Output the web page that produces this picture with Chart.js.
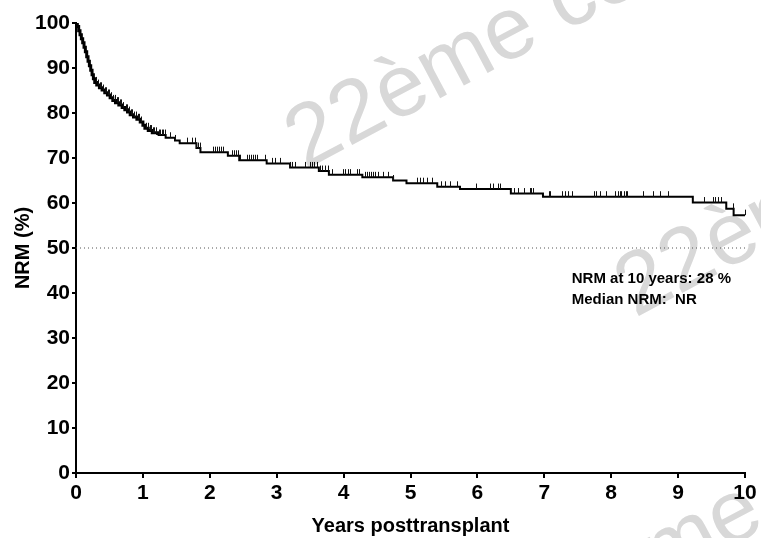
<!DOCTYPE html>
<html><head><meta charset="utf-8">
<script src="https://cdn.jsdelivr.net/npm/chart.js@4.4.1/dist/chart.umd.min.js"></script>
<style>html,body{margin:0;padding:0;background:#fff}canvas{display:block}</style>
</head><body>
<canvas id="c" width="761" height="538"></canvas>
<script>
// Kaplan-Meier step points (time in years, NRM-free %)
const stepTimes = [0,0.02,0.04,0.06,0.08,0.10,0.12,0.14,0.16,0.18,0.20,0.22,0.24,0.26,0.28,0.31,0.35,0.39,0.43,0.47,0.51,0.55,0.59,0.64,0.69,0.73,0.77,0.81,0.86,0.91,0.96,1.00,1.03,1.08,1.14,1.22,1.34,1.48,1.55,1.80,1.86,2.27,2.44,2.85,3.20,3.63,3.78,4.28,4.74,4.94,5.40,5.74,6.50,6.98,9.22,9.72,9.83,10.0];
const stepValues = [100,99.2,98.3,97.4,96.5,95.6,94.6,93.6,92.5,91.5,90.5,89.5,88.5,87.6,86.8,86.2,85.6,85.1,84.5,84.0,83.4,82.8,82.3,81.8,81.2,80.7,80.2,79.6,79.1,78.6,78.0,77.3,76.6,76.1,75.6,75.1,74.5,73.9,73.3,72.2,71.3,70.5,69.5,68.8,67.9,67.1,66.3,65.7,65.0,64.4,63.6,63.1,62.1,61.4,60.1,58.7,57.3,57.3];
// Censored observations (years)
const censorTimes = [0.30,0.33,0.36,0.38,0.40,0.43,0.45,0.48,0.50,0.53,0.55,0.58,0.61,0.63,0.66,0.68,0.71,0.74,0.76,0.79,0.82,0.84,0.87,0.89,0.92,0.94,0.97,1.05,1.07,1.10,1.12,1.15,1.17,1.20,1.24,1.26,1.28,1.30,1.33,1.41,1.48,1.66,1.73,1.78,1.80,1.83,1.85,2.05,2.08,2.11,2.14,2.17,2.20,2.33,2.36,2.39,2.42,2.45,2.55,2.58,2.61,2.64,2.67,2.70,2.83,2.93,2.97,3.05,3.20,3.23,3.27,3.42,3.50,3.53,3.56,3.60,3.65,3.68,3.72,3.77,3.82,3.99,4.02,4.06,4.10,4.20,4.23,4.32,4.35,4.38,4.41,4.44,4.47,4.52,4.59,4.67,4.74,5.09,5.14,5.19,5.24,5.32,5.45,5.52,5.59,5.69,5.98,6.19,6.23,6.31,6.34,6.54,6.61,6.70,6.78,6.80,6.83,7.07,7.08,7.27,7.31,7.35,7.42,7.75,7.78,7.83,7.92,8.06,8.10,8.13,8.15,8.19,8.22,8.24,8.47,8.62,8.73,8.85,9.39,9.52,9.55,9.60,9.64,9.82,10.0];
const xTicks = [0,1,2,3,4,5,6,7,8,9,10];
const yTicks = [0,10,20,30,40,50,60,70,80,90,100];
const refLevel = [50,50];
const refTimes = [0,10];
const noteLines = ['NRM at 10 years: 28 %', 'Median NRM:  NR'];
const noteAnchor = [7.41, 42.3];
const watermarkText = '22ème congrès';

const FONT = "'Liberation Sans', Arial, sans-serif";
Chart.defaults.font.family = FONT;
Chart.defaults.color = '#000';

function valueAt(t){
  let v = stepValues[0];
  for (let i=0;i<stepTimes.length;i++){ if (stepTimes[i] <= t + 1e-9) v = stepValues[i]; }
  return v;
}

const watermark = {
  id:'watermark',
  beforeDraw(chart){
    const ctx = chart.ctx;
    ctx.save();
    ctx.fillStyle = '#d8d8d8';
    ctx.font = "88px " + FONT;
    [[305,170],[635,318],[530,653]].forEach(p=>{
      ctx.save();
      ctx.translate(p[0],p[1]);
      ctx.rotate(-28*Math.PI/180);
      ctx.fillText(watermarkText,0,0);
      ctx.restore();
    });
    ctx.restore();
  }
};

const censor = {
  id:'censor',
  afterDatasetsDraw(chart){
    const ctx = chart.ctx, xs = chart.scales.x, ys = chart.scales.y;
    ctx.save();
    ctx.strokeStyle = '#111';
    ctx.lineWidth = 1;
    ctx.beginPath();
    censorTimes.forEach(t=>{
      const x = Math.round(xs.getPixelForValue(t)) + 0.5;
      const y = ys.getPixelForValue(valueAt(t));
      ctx.moveTo(x, y);
      ctx.lineTo(x, y - 5.5);
    });
    ctx.stroke();
    ctx.restore();
  }
};

const notes = {
  id:'notes',
  afterDatasetsDraw(chart){
    const ctx = chart.ctx, xs = chart.scales.x, ys = chart.scales.y;
    ctx.save();
    ctx.fillStyle = '#000';
    ctx.font = "bold 15px " + FONT;
    ctx.textBaseline = 'alphabetic';
    const x = xs.getPixelForValue(noteAnchor[0]);
    const y = ys.getPixelForValue(noteAnchor[1]);
    noteLines.forEach((s,i)=>ctx.fillText(s, x, y + i*21));
    ctx.restore();
  }
};

new Chart(document.getElementById('c'), {
  type:'line',
  data:{
    datasets:[
      {
        data: stepTimes.map((t,i)=>({x:t,y:stepValues[i]})),
        borderColor:'#000', borderWidth:2, stepped:true, pointRadius:0, fill:false,
        segment:{ borderWidth: c => (c.p0.parsed.x < 1.2 ? 3 : 2) }
      },
      {
        data: refTimes.map((t,i)=>({x:t,y:refLevel[i]})),
        borderColor:'#555', borderWidth:1, borderDash:[1,3], pointRadius:0, fill:false
      }
    ]
  },
  options:{
    responsive:false, animation:false,
    layout:{padding:{top:23,right:16,left:0,bottom:0}},
    plugins:{legend:{display:false}, tooltip:{enabled:false}},
    scales:{
      x:{
        type:'linear', min:0, max:10,
        afterBuildTicks: s=>{ s.ticks = xTicks.map(v=>({value:v})); },
        afterFit: s=>{ s.height = 65; },
        ticks:{font:{size:21,weight:'bold'}, color:'#000', padding:3, maxRotation:0},
        grid:{drawOnChartArea:false, drawTicks:true, tickLength:5, color:'#000', lineWidth:2},
        border:{display:true, color:'#000', width:2},
        title:{display:true, text:'Years posttransplant', font:{size:20,weight:'bold'}, color:'#000', padding:{top:0,bottom:0}}
      },
      y:{
        min:0, max:100,
        afterBuildTicks: s=>{ s.ticks = yTicks.map(v=>({value:v})); },
        afterFit: s=>{ s.width = 76; },
        ticks:{font:{size:21,weight:'bold'}, color:'#000', padding:2},
        grid:{drawOnChartArea:false, drawTicks:true, tickLength:4, color:'#000', lineWidth:2},
        border:{display:true, color:'#000', width:2},
        title:{display:true, text:'NRM (%)', font:{size:20,weight:'bold'}, color:'#000', padding:{top:11,bottom:0}}
      }
    }
  },
  plugins:[watermark, censor, notes]
});
</script>
</body></html>
